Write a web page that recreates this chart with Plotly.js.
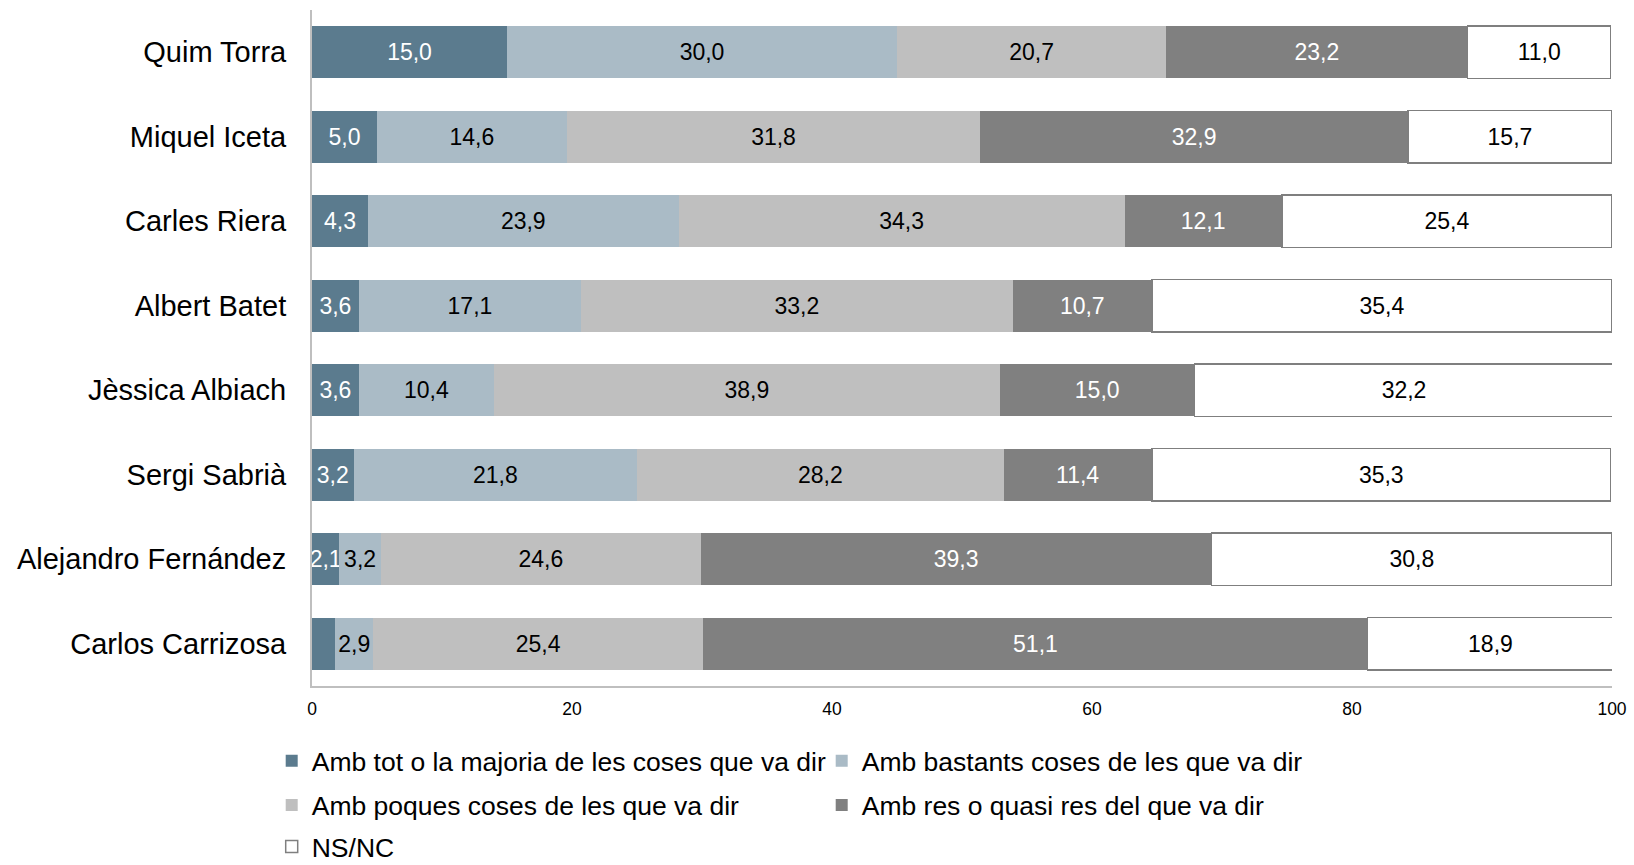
<!DOCTYPE html>
<html><head><meta charset="utf-8">
<script src="https://cdn.plot.ly/plotly-3.0.1.min.js"></script>
<style>html,body{margin:0;padding:0;background:#fff}#chart{width:1634px;height:865px}</style>
</head><body><div id="chart"></div>
<script>
const categories = ["Quim Torra","Miquel Iceta","Carles Riera","Albert Batet","Jèssica Albiach","Sergi Sabrià","Alejandro Fernández","Carlos Carrizosa"];
const seriesNames = ["Amb tot o la majoria de les coses que va dir","Amb bastants coses de les que va dir","Amb poques coses de les que va dir","Amb res o quasi res del que va dir","NS/NC"];
const totMajoria = [15.0, 5.0, 4.3, 3.6, 3.6, 3.2, 2.1, 1.8];
const bastants   = [30.0, 14.6, 23.9, 17.1, 10.4, 21.8, 3.2, 2.9];
const poques     = [20.7, 31.8, 34.3, 33.2, 38.9, 28.2, 24.6, 25.4];
const resQuasi   = [23.2, 32.9, 12.1, 10.7, 15.0, 11.4, 39.3, 51.1];
const nsnc       = [11.0, 15.7, 25.4, 35.4, 32.2, 35.3, 30.8, 18.9];

const series = [totMajoria, bastants, poques, resQuasi, nsnc];
const colors = ["#5b7b8e", "#aabbc6", "#bfbfbf", "#808080", "#ffffff"];
const textColors = ["#ffffff", "#000000", "#000000", "#ffffff", "#000000"];
const legendIds = ["legend", "legend", "legend2", "legend2", "legend3"];
const FONT = "'Liberation Sans', Arial, sans-serif";

const fmt = v => v < 2 ? "" : v.toFixed(1).replace(".", ",");

const traces = series.map((vals, i) => ({
  type: "bar",
  orientation: "h",
  name: seriesNames[i],
  y: categories,
  x: vals,
  text: vals.map(fmt),
  textposition: "inside",
  insidetextanchor: "middle",
  textangle: 0,
  constraintext: "none",
  textfont: {family: FONT, size: 23, color: textColors[i]},
  marker: {color: colors[i], line: {color: i === 4 ? "#7f7f7f" : colors[i], width: i === 4 ? 1.5 : 0}},
  legend: legendIds[i],
  hoverinfo: "skip"
}));

const legendBase = {
  orientation: "h",
  traceorder: "normal",
  font: {family: FONT, size: 26.5, color: "#000"},
  entrywidth: 505,
  entrywidthmode: "pixels",
  xanchor: "left",
  yanchor: "middle",
  x: -0.031,
  bgcolor: "rgba(0,0,0,0)",
  itemclick: false
};

const layout = {
  width: 1634, height: 865,
  margin: {l: 312, r: 22, t: 10, b: 179, autoexpand: false},
  paper_bgcolor: "#fff", plot_bgcolor: "#fff",
  barmode: "stack",
  bargap: 0.38,
  separators: ", ",
  uniformtext: {mode: "show", minsize: 23},
  font: {family: FONT, color: "#000"},
  xaxis: {
    range: [0, 100], tickvals: [0, 20, 40, 60, 80, 100],
    showgrid: false, zeroline: false,
    showline: true, linecolor: "#bfbfbf", linewidth: 2,
    ticks: "", tickfont: {family: FONT, size: 17.5, color: "#000"},
    ticklabelstandoff: 6, fixedrange: true
  },
  yaxis: {
    type: "category", autorange: "reversed",
    showgrid: false, zeroline: false,
    showline: true, linecolor: "#bfbfbf", linewidth: 2,
    ticks: "", tickfont: {family: FONT, size: 29, color: "#000"},
    ticklabelstandoff: 18, fixedrange: true
  },
  legend: Object.assign({}, legendBase, {y: -0.111}),
  legend2: Object.assign({}, legendBase, {y: -0.1765}),
  legend3: Object.assign({}, legendBase, {y: -0.238}),
  showlegend: true
};

Plotly.newPlot("chart", traces, layout, {displayModeBar: false, staticPlot: true});
</script>
</body></html>
